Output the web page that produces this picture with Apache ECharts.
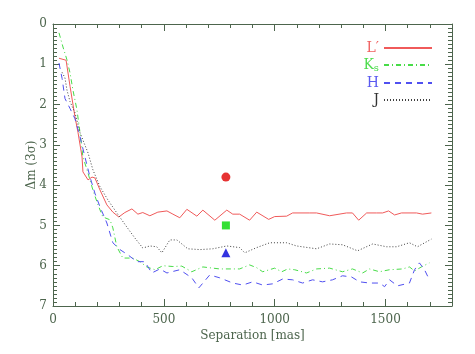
<!DOCTYPE html>
<html>
<head>
<meta charset="utf-8">
<script src="https://cdn.jsdelivr.net/npm/echarts@6/dist/echarts.min.js"></script>
<style>
  html, body { margin: 0; padding: 0; background: #fff; }
  #chart { width: 475px; height: 354px; }
</style>
</head>
<body>
<div id="chart"></div>
<script>
// separation [mas], delta mag (3 sigma)
var lpData = [[27,0.85],[59,0.9],[77,1.55],[99,2.3],[113,2.7],[131,3.3],[135,3.67],[158,3.87],[176,3.8],[189,3.82],
  [212,4.12],[243,4.49],[270,4.67],[297,4.79],[324,4.68],[356,4.59],[383,4.72],[405,4.68],[437,4.76],[473,4.67],
  [514,4.64],[541,4.72],[572,4.81],[604,4.6],[649,4.77],[676,4.62],[730,4.87],[784,4.62],[811,4.72],[842,4.72],
  [887,4.87],[919,4.67],[973,4.85],[1000,4.78],[1054,4.77],[1081,4.69],[1158,4.69],[1189,4.69],[1248,4.76],
  [1324,4.69],[1351,4.69],[1379,4.87],[1415,4.69],[1460,4.69],[1487,4.69],[1514,4.64],[1541,4.74],[1572,4.69],
  [1640,4.69],[1667,4.72],[1707,4.69]];
var ksData = [[27,0.22],[45,0.57],[63,0.89],[77,1.22],[90,1.64],[108,2.13],[122,2.7],[135,3.3],[158,3.7],[180,4.12],
  [203,4.49],[225,4.79],[257,4.86],[270,5.06],[288,5.53],[315,5.81],[360,5.81],[392,5.9],[423,6.03],[460,6.1],
  [496,6.0],[541,6.02],[581,6.01],[626,6.15],[676,6.03],[721,6.06],[752,6.08],[842,6.08],[887,5.98],[919,6.05],
  [946,6.15],[1000,6.06],[1032,6.15],[1059,6.08],[1090,6.1],[1144,6.18],[1189,6.08],[1248,6.06],[1306,6.15],
  [1351,6.08],[1397,6.18],[1428,6.08],[1473,6.15],[1518,6.1],[1577,6.08],[1608,6.03],[1631,6.13],[1662,6.03],[1698,5.93]];
var hData = [[27,0.97],[41,1.35],[54,1.85],[77,2.1],[99,2.35],[122,2.8],[144,3.3],[167,3.8],[189,4.2],[212,4.54],
  [243,4.94],[270,5.43],[302,5.6],[338,5.73],[378,5.9],[414,5.9],[446,6.18],[482,6.08],[514,6.18],[572,6.1],
  [626,6.3],[658,6.55],[707,6.23],[752,6.3],[811,6.43],[856,6.48],[901,6.4],[946,6.48],[991,6.45],[1036,6.33],
  [1081,6.35],[1126,6.43],[1171,6.35],[1216,6.4],[1261,6.35],[1306,6.25],[1347,6.28],[1383,6.4],[1428,6.43],
  [1473,6.43],[1496,6.52],[1518,6.35],[1554,6.5],[1608,6.43],[1631,6.1],[1653,5.93],[1676,6.1],[1698,6.35]];
var jData = [[41,1.2],[54,1.34],[63,1.64],[77,1.93],[99,2.2],[122,2.7],[158,3.2],[180,3.62],[212,4.04],[248,4.37],
  [288,4.69],[333,5.04],[369,5.31],[405,5.56],[437,5.51],[468,5.53],[491,5.68],[527,5.36],[559,5.36],[608,5.58],
  [662,5.6],[721,5.58],[784,5.51],[842,5.55],[865,5.68],[919,5.55],[978,5.43],[1054,5.43],[1099,5.51],[1189,5.58],
  [1248,5.46],[1306,5.48],[1374,5.63],[1442,5.46],[1505,5.53],[1550,5.53],[1608,5.43],[1644,5.53],[1707,5.34]];
// single points
var lpPoint = [[780, 3.8]];
var ksPoint = [[780, 5.0]];
var hPoint = [[780, 5.68]];

var axisCol = '#4d654d';
var font = 'DejaVu Serif';

function xAx(pos, labels) {
  return {
    type: 'value', position: pos, min: 0, max: 1800, interval: 500,
    name: labels ? 'Separation [mas]' : '', nameLocation: 'middle', nameGap: 24,
    nameMoveOverlap: false,
    nameTextStyle: { color: axisCol, fontFamily: font, fontSize: 12 },
    axisLine: { show: true, onZero: false, lineStyle: { color: axisCol, width: 1 } },
    axisTick: { show: true, inside: true, length: 7, lineStyle: { color: axisCol } },
    minorTick: { show: true, splitNumber: 5, length: 4, lineStyle: { color: axisCol } },
    axisLabel: { show: labels, margin: 8, color: axisCol, fontFamily: font, fontSize: 12,
      showMaxLabel: false, formatter: function (v) { return String(v); } },
    splitLine: { show: false }
  };
}
function yAx(pos, labels) {
  return {
    type: 'value', position: pos, min: 0, max: 7, interval: 1, inverse: true,
    name: labels ? 'Δm (3σ)' : '', nameLocation: 'middle', nameGap: 15,
    nameMoveOverlap: false,
    nameTextStyle: { color: axisCol, fontFamily: font, fontSize: 12 },
    axisLine: { show: true, onZero: false, lineStyle: { color: axisCol, width: 1 } },
    axisTick: { show: true, inside: true, length: 7, lineStyle: { color: axisCol } },
    minorTick: { show: true, splitNumber: 10, length: 4, lineStyle: { color: axisCol } },
    axisLabel: { show: labels, margin: 6, color: axisCol, fontFamily: font, fontSize: 12 },
    splitLine: { show: false }
  };
}

function line(name, data, color, dash) {
  return {
    name: name, type: 'line', data: data, symbol: 'none', smooth: false,
    lineStyle: { color: color, width: 1, type: dash }, itemStyle: { color: color },
    animation: false
  };
}
// markers use the top/right axes (same ranges) so those axes are active too
function pt(data, symbol, size, color) {
  return { type: 'scatter', data: data, symbol: symbol, symbolSize: size,
    xAxisIndex: 1, yAxisIndex: 1,
    itemStyle: { color: color }, animation: false };
}

var chart = echarts.init(document.getElementById('chart'));
chart.setOption({
  backgroundColor: '#fff',
  grid: { left: 53, right: 23, top: 24, bottom: 48 },
  xAxis: [xAx('bottom', true), xAx('top', false)],
  yAxis: [yAx('left', true), yAx('right', false)],
  legend: {
    orient: 'vertical', align: 'right', right: 37, top: 36,
    itemWidth: 48, itemHeight: 10, itemGap: 3,
    itemStyle: { opacity: 0 },
    textStyle: { fontFamily: font, fontSize: 14,
      rich: { k: { color: '#4cdc4c', fontFamily: font, fontSize: 14 },
              s: { color: '#4cdc4c', fontFamily: font, fontSize: 10, verticalAlign: 'bottom', padding: [6, 0, 0, 0] } } },
    formatter: function (n) { return n === 'Ks' ? '{k|K}{s|s}' : n; },
    data: [
      { name: 'L′', textStyle: { color: '#f06060' } },
      { name: 'Ks', textStyle: { color: '#4cdc4c' } },
      { name: 'H', textStyle: { color: '#5a5af0' } },
      { name: 'J', textStyle: { color: '#333333' } }
    ]
  },
  series: [
    line('L′', lpData, '#f05a5a', 'solid'),
    line('Ks', ksData, '#48dc48', [5, 3, 1, 3]),
    line('H', hData, '#5050f0', [6, 5]),
    line('J', jData, '#404040', [1, 2]),
    pt(lpPoint, 'circle', 9, '#e00000'),
    pt(ksPoint, 'rect', 8, '#00d800'),
    pt(hPoint, 'triangle', 9, '#0000d8')
  ]
});
</script>
</body>
</html>
